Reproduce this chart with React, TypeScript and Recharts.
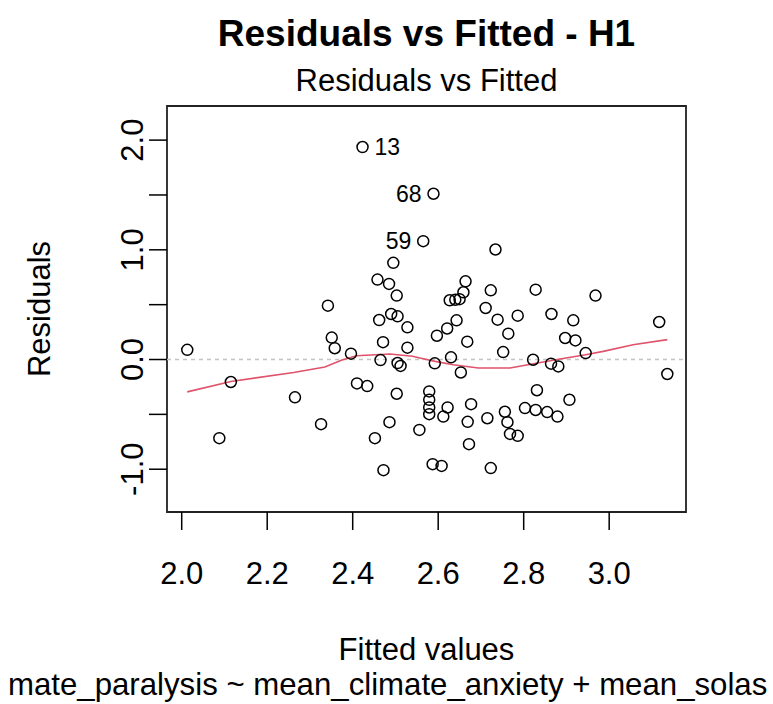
import { ScatterChart, Scatter, XAxis, YAxis, ReferenceLine, ReferenceArea } from 'recharts';

// fitted values / residuals (first three are the labelled outliers)
const fittedValues = [
  2.423, 2.589, 2.565, 2.734, 2.495, 2.458, 2.485, 2.664, 2.659, 2.723,
  2.828, 2.968, 2.503, 2.627, 2.64, 2.65, 2.342, 2.711, 2.786, 2.865,
  2.49, 2.505, 2.462, 2.643, 2.739, 2.916, 3.117, 2.528, 2.621, 2.597,
  2.764, 2.351, 2.897, 2.921, 2.668, 2.471, 2.528, 2.358, 2.013, 2.752,
  2.945, 2.396, 2.63, 2.822, 2.465, 2.505, 2.512, 2.592, 2.864, 2.881,
  2.653, 3.136, 2.115, 2.41, 2.434, 2.831, 2.579, 2.503, 2.265, 2.907,
  2.579, 2.677, 2.579, 2.622, 2.803, 2.828, 2.756, 2.855, 2.579, 2.612,
  2.879, 2.715, 2.669, 2.762, 2.486, 2.326, 2.556, 2.768, 2.786, 2.088,
  2.452, 2.672, 2.587, 2.608, 2.723, 2.472,
];

const residualValues = [
  1.937, 1.511, 1.079, 1.003, 0.881, 0.729, 0.689, 0.713, 0.613, 0.631,
  0.637, 0.583, 0.583, 0.54, 0.545, 0.55, 0.491, 0.47, 0.4, 0.415,
  0.415, 0.394, 0.36, 0.357, 0.363, 0.357, 0.342, 0.293, 0.283, 0.217,
  0.236, 0.2, 0.196, 0.174, 0.163, 0.158, 0.108, 0.103, 0.088, 0.068,
  0.059, 0.053, 0.02, -0.002, -0.005, -0.032, -0.058, -0.035, -0.038, -0.063,
  -0.118, -0.132, -0.205, -0.218, -0.242, -0.28, -0.291, -0.312, -0.345, -0.367,
  -0.367, -0.407, -0.437, -0.437, -0.443, -0.46, -0.476, -0.479, -0.498, -0.52,
  -0.52, -0.535, -0.568, -0.571, -0.571, -0.589, -0.642, -0.678, -0.696, -0.717,
  -0.717, -0.772, -0.954, -0.97, -0.99, -1.009,
];

const outlierIds = ['13', '68', '59'];
const outlierSide = ['right', 'left', 'left'];

// smoother (red line)
const smoothX = [2.013, 2.115, 2.262, 2.335, 2.375, 2.409, 2.487, 2.54, 2.557, 2.593, 2.635, 2.694, 2.768, 2.823, 2.885, 2.945, 2.986, 3.056, 3.136];
const smoothY = [-0.295, -0.2, -0.118, -0.068, -0.005, 0.035, 0.05, 0.03, 0.014, -0.017, -0.047, -0.078, -0.078, -0.038, 0.005, 0.044, 0.074, 0.135, 0.181];

const xTicks = [2.0, 2.2, 2.4, 2.6, 2.8, 3.0];
const yTicks = [-1, -0.5, 0, 0.5, 1, 1.5, 2];

const X_DOMAIN = [1.9656, 3.1797];
const Y_DOMAIN = [-1.39, 2.311];

const FONT = '"Liberation Sans", Arial, sans-serif';
const BASE = 31;

const points = fittedValues.map((x, i) => ({
  x,
  y: residualValues[i],
  id: outlierIds[i],
  side: outlierSide[i],
}));
const smooth = smoothX.map((x, i) => ({ x, y: smoothY[i] }));

const PointShape = (props: any) => {
  const { cx, cy, payload } = props;
  return (
    <g>
      <circle cx={cx} cy={cy} r={5.5} fill="none" stroke="#000" strokeWidth={1.5} />
      {payload.id && (
        <text
          x={payload.side === 'right' ? cx + 12 : cx - 12}
          y={cy + 8}
          textAnchor={payload.side === 'right' ? 'start' : 'end'}
          fontSize={23}
          fontFamily={FONT}
          fill="#000"
        >
          {payload.id}
        </text>
      )}
    </g>
  );
};

const XTick = ({ x, y, payload }: any) => (
  <text x={x} y={y + 52} textAnchor="middle" fontSize={BASE} fontFamily={FONT} fill="#000">
    {Number(payload.value).toFixed(1)}
  </text>
);

const YTick = ({ x, y, payload }: any) => {
  if (!Number.isInteger(payload.value)) return <g />;
  const bx = x - 4;
  return (
    <text
      x={bx}
      y={y}
      transform={`rotate(-90, ${bx}, ${y})`}
      textAnchor="middle"
      fontSize={BASE}
      fontFamily={FONT}
      fill="#000"
    >
      {Number(payload.value).toFixed(1)}
    </text>
  );
};

export default function App() {
  return (
    <div style={{ position: 'absolute', left: 0, top: 0, width: 773, height: 704, background: '#fff', overflow: 'hidden' }}>
      <ScatterChart width={773} height={704} margin={{ top: 106, right: 87, bottom: 132, left: 107 }}>
        <XAxis
          type="number"
          dataKey="x"
          domain={X_DOMAIN}
          allowDataOverflow
          ticks={xTicks}
          tickSize={18}
          axisLine={false}
          tickLine={{ stroke: '#000', strokeWidth: 1.5 }}
          tick={<XTick />}
          height={60}
        />
        <YAxis
          type="number"
          dataKey="y"
          domain={Y_DOMAIN}
          allowDataOverflow
          ticks={yTicks}
          tickSize={18}
          axisLine={false}
          tickLine={{ stroke: '#000', strokeWidth: 1.5 }}
          tick={<YTick />}
          width={60}
        />
        <ReferenceLine y={0} stroke="#c4c4c4" strokeWidth={1.5} strokeDasharray="4 4" />
        <Scatter
          data={smooth}
          line={{ stroke: '#DF536B', strokeWidth: 1.6 }}
          shape={() => <g />}
          isAnimationActive={false}
        />
        <Scatter data={points} shape={<PointShape />} isAnimationActive={false} />
        <ReferenceArea
          x1={X_DOMAIN[0]}
          x2={X_DOMAIN[1]}
          y1={Y_DOMAIN[0]}
          y2={Y_DOMAIN[1]}
          fill="none"
          fillOpacity={0}
          stroke="#222"
          strokeWidth={1.8}
        />
      </ScatterChart>
      <svg
        width={773}
        height={704}
        style={{ position: 'absolute', left: 0, top: 0, pointerEvents: 'none' }}
        fontFamily={FONT}
      >
        <text x={426.5} y={46} textAnchor="middle" fontSize={37} fontWeight="bold" fill="#000">
          Residuals vs Fitted - H1
        </text>
        <text x={426.5} y={91} textAnchor="middle" fontSize={BASE} fill="#000">
          Residuals vs Fitted
        </text>
        <text x={426.5} y={660} textAnchor="middle" fontSize={BASE} fill="#000">
          Fitted values
        </text>
        <text x={8} y={695} textAnchor="start" fontSize={31.2} fill="#000">
          mate_paralysis ~ mean_climate_anxiety + mean_solas
        </text>
        <text x={50} y={309} transform="rotate(-90, 50, 309)" textAnchor="middle" fontSize={BASE} fill="#000">
          Residuals
        </text>
      </svg>
    </div>
  );
}
